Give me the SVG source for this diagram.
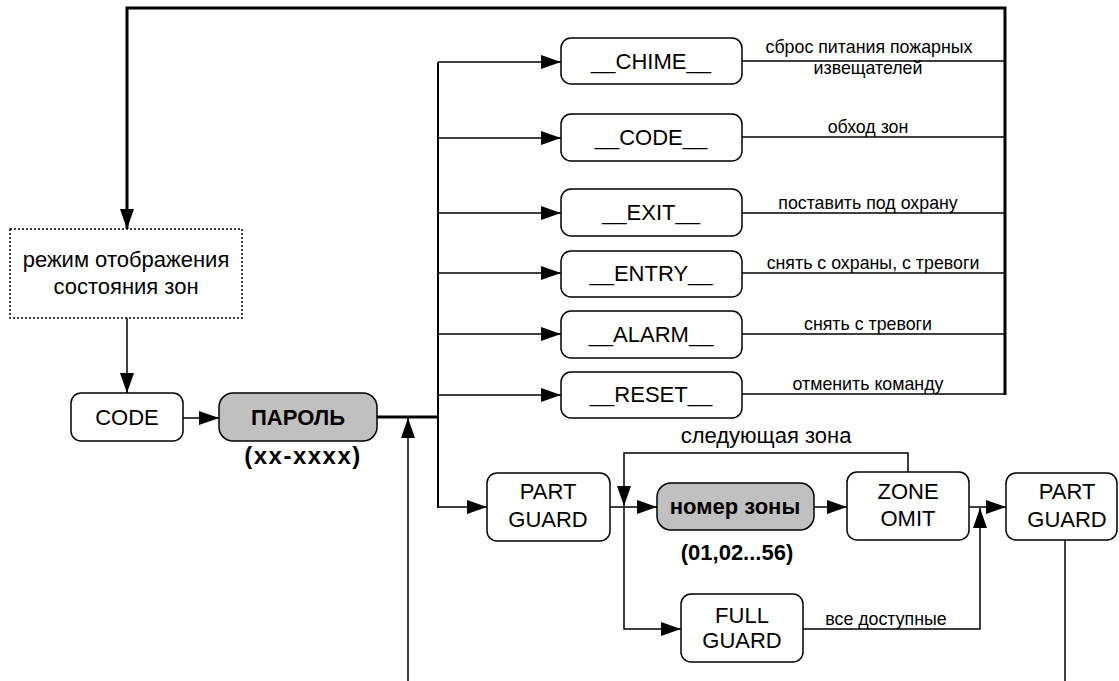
<svg xmlns="http://www.w3.org/2000/svg" width="1119" height="681" viewBox="0 0 1119 681">
<style>
.box{fill:#fff;stroke:#000;stroke-width:1.5}
.grey{fill:#c0c0c0;stroke:#000;stroke-width:1.5}
.dot{fill:#fff;stroke:#000;stroke-width:1.5;stroke-dasharray:2 2}
.t{font-family:"Liberation Sans",Arial,sans-serif;font-size:22px;text-anchor:middle;fill:#000}
.b{font-weight:bold;font-size:22px}
.w{font-size:24px;letter-spacing:1.5px}
.l{font-family:"Liberation Sans",Arial,sans-serif;font-size:17.8px;text-anchor:middle;fill:#000}
.c{fill:none;stroke:#000;stroke-width:1.5}
.k{stroke-width:3}
.m{stroke-width:2}
</style>
<defs>
<marker id="a" markerUnits="userSpaceOnUse" markerWidth="20" markerHeight="14" refX="20" refY="7" orient="auto"><path d="M0,0 L20,7 L0,14 z" fill="#000"/></marker>
</defs>
<g id="connectors">
<path class="c k" d="M1005,395 V8 H127 V229" marker-end="url(#a)"/>
<path class="c" d="M127,318 V393" marker-end="url(#a)"/>
<path class="c" d="M183,418 H219" marker-end="url(#a)"/>
<path class="c k" d="M377,417 H439"/>
<path class="c m" d="M438,62 V508"/>
<path class="c" d="M438,62 H561" marker-end="url(#a)"/>
<path class="c" d="M438,138 H561" marker-end="url(#a)"/>
<path class="c" d="M438,213 H561" marker-end="url(#a)"/>
<path class="c" d="M438,273 H561" marker-end="url(#a)"/>
<path class="c" d="M438,334 H561" marker-end="url(#a)"/>
<path class="c" d="M438,395 H561" marker-end="url(#a)"/>
<path class="c" d="M742,61 H1005"/>
<path class="c" d="M742,137 H1005"/>
<path class="c" d="M742,213 H1005"/>
<path class="c" d="M742,273 H1005"/>
<path class="c" d="M742,334 H1005"/>
<path class="c" d="M742,394 H1005"/>
<path class="c" d="M408,681 V418" marker-end="url(#a)"/>
<path class="c" d="M438,507 H487" marker-end="url(#a)"/>
<path class="c" d="M610,507 H657" marker-end="url(#a)"/>
<path class="c" d="M908,473 V453 H624 V506" marker-end="url(#a)"/>
<path class="c" d="M624,507 V629 H681" marker-end="url(#a)"/>
<path class="c" d="M814,507 H847" marker-end="url(#a)"/>
<path class="c" d="M969,507 H1006" marker-end="url(#a)"/>
<path class="c" d="M803,629 H980 V508" marker-end="url(#a)"/>
<path class="c" d="M1065,540 V681"/>
<text class="l" x="869" y="53">сброс питания пожарных</text>
<text class="l" x="868" y="74">извещателей</text>
<text class="l" x="868" y="133">обход зон</text>
<text class="l" x="868" y="209">поставить под охрану</text>
<text class="l" x="873" y="269">снять с охраны, с тревоги</text>
<text class="l" x="868" y="330">снять с тревоги</text>
<text class="l" x="868" y="390">отменить команду</text>
<text class="t" x="766" y="443">следующая зона</text>
<text class="l" x="886" y="625">все доступные</text>
</g>
<g id="mode">
<rect class="dot" x="10" y="229" width="232" height="89"/>
<text class="t" x="126" y="267">режим отображения</text>
<text class="t" x="126" y="294">состояния зон</text>
</g>
<g id="code">
<rect class="box" x="71" y="393" width="112" height="48" rx="10"/>
<text class="t" x="127" y="425">CODE</text>
</g>
<g id="password">
<rect class="grey" x="219" y="393" width="158" height="48" rx="14"/>
<text class="t b" x="298" y="425">ПАРОЛЬ</text>
<text class="t b w" x="303" y="464">(xx-xxxx)</text>
</g>
<g id="chime">
<rect class="box" x="561" y="38" width="181" height="46" rx="10"/>
<text class="t" x="651" y="69">__CHIME__</text>
</g>
<g id="code2">
<rect class="box" x="561" y="114" width="181" height="47" rx="10"/>
<text class="t" x="651" y="145">__CODE__</text>
</g>
<g id="exit">
<rect class="box" x="561" y="189" width="181" height="47" rx="10"/>
<text class="t" x="651" y="220">__EXIT__</text>
</g>
<g id="entry">
<rect class="box" x="561" y="251" width="181" height="46" rx="10"/>
<text class="t" x="651" y="281">__ENTRY__</text>
</g>
<g id="alarm">
<rect class="box" x="561" y="311" width="181" height="47" rx="10"/>
<text class="t" x="651" y="342">__ALARM__</text>
</g>
<g id="reset">
<rect class="box" x="561" y="372" width="181" height="46" rx="10"/>
<text class="t" x="651" y="402">__RESET__</text>
</g>
<g id="partguard1">
<rect class="box" x="487" y="473" width="123" height="68" rx="10"/>
<text class="t" x="548" y="499">PART</text>
<text class="t" x="548" y="527">GUARD</text>
</g>
<g id="zonenum">
<rect class="grey" x="657" y="483" width="157" height="47" rx="14"/>
<text class="t b" x="735" y="514">номер зоны</text>
<text class="t b" x="737" y="560">(01,02...56)</text>
</g>
<g id="zoneomit">
<rect class="box" x="847" y="472" width="122" height="68" rx="10"/>
<text class="t" x="908" y="499">ZONE</text>
<text class="t" x="908" y="526">OMIT</text>
</g>
<g id="partguard2">
<rect class="box" x="1006" y="473" width="111" height="67" rx="10"/>
<text class="t" x="1067" y="499">PART</text>
<text class="t" x="1067" y="527">GUARD</text>
</g>
<g id="fullguard">
<rect class="box" x="681" y="594" width="122" height="68" rx="10"/>
<text class="t" x="742" y="623">FULL</text>
<text class="t" x="742" y="648">GUARD</text>
</g>
</svg>
